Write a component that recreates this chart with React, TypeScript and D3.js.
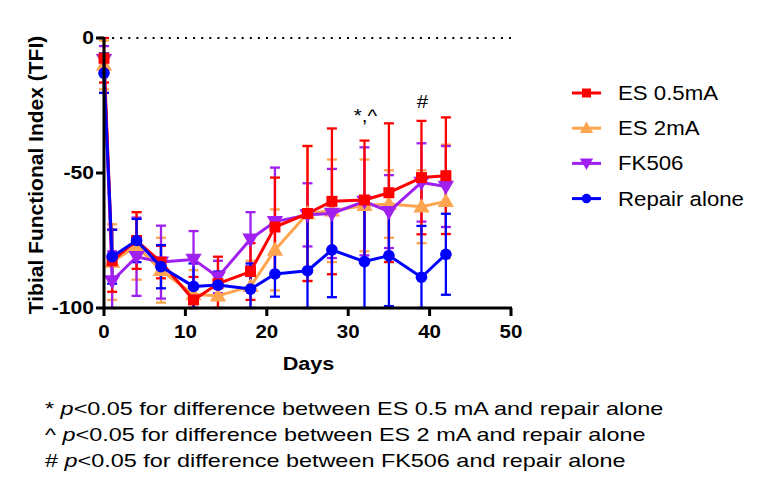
import React from "react";
import * as d3 from "d3";

const days = [0, 1, 4, 7, 11, 14, 18, 21, 25, 28, 32, 35, 39, 42];

const es05Mean = [-7.5, -82.5, -75, -83, -97, -91, -86.5, -70, -65, -60.5, -60, -57.3, -51.7, -51];
const es05Sd = [9, 11.5, 10.5, 6, 8.5, 10, 10.5, 18.3, 25, 27, 22, 25.7, 21, 21.6];

const es2Mean = [-10, -83, -77, -86, -95, -95.5, -92, -78.5, -65, -64, -62, -61.5, -62.5, -60.5];
const es2Sd = [9, 14, 12.5, 12, 9, 8, 9.5, 15, 25, 19, 17, 12.5, 13.5, 21];

const fkMean = [-8, -90, -81, -83, -82, -88.5, -74.5, -68, -65.5, -65, -60.5, -64.3, -53.5, -55];
const fkSd = [5, 11, 14.5, 13.5, 10.5, 6, 10, 20, 11.7, 16.5, 20, 13.5, 14.5, 15];

const repMean = [-13, -81, -75, -84.7, -92, -91.5, -93, -87.4, -86.2, -78.5, -82.8, -80.6, -88.6, -80.1];
const repSd = [7.3, 10, 8, 8, 8.5, 5, 9.5, 8.4, 20, 17.5, 22, 18.7, 19, 15];

const seriesNames = ["ES 0.5mA", "ES 2mA", "FK506", "Repair alone"];
const xTicks = [0, 10, 20, 30, 40, 50];
const yTicks = [0, -50, -100];

const annotations = [
  { day: 32, text: "*,^", base: 122 },
  { day: 39, text: "#", base: 108 },
];

const footnotes = [
  { sym: "* ", rest: "<0.05 for difference between ES 0.5 mA and repair alone" },
  { sym: "^ ", rest: "<0.05 for difference between ES 2 mA and repair alone" },
  { sym: "# ", rest: "<0.05 for difference between FK506 and repair alone" },
];

type Shape = "square" | "triUp" | "triDown" | "circle";

const series = [
  { name: seriesNames[1], mean: es2Mean, sd: es2Sd, color: "#FFA54F", shape: "triUp" as Shape },
  { name: seriesNames[2], mean: fkMean, sd: fkSd, color: "#A020F0", shape: "triDown" as Shape },
  { name: seriesNames[0], mean: es05Mean, sd: es05Sd, color: "#FF0000", shape: "square" as Shape },
  { name: seriesNames[3], mean: repMean, sd: repSd, color: "#0000FF", shape: "circle" as Shape },
];

const legendItems = [
  { name: seriesNames[0], color: "#FF0000", shape: "square" as Shape },
  { name: seriesNames[1], color: "#FFA54F", shape: "triUp" as Shape },
  { name: seriesNames[2], color: "#A020F0", shape: "triDown" as Shape },
  { name: seriesNames[3], color: "#0000FF", shape: "circle" as Shape },
];

function Marker({ shape, x, y, s, color }: { shape: Shape; x: number; y: number; s: number; color: string }) {
  if (shape === "square") return <rect x={x - s / 2} y={y - s / 2} width={s} height={s} fill={color} />;
  if (shape === "circle") return <circle cx={x} cy={y} r={s * 0.53} fill={color} />;
  const sym = d3.symbol().type(d3.symbolTriangle).size(s * s * 0.95)();
  return (
    <path
      d={sym || ""}
      transform={`translate(${x},${y + (shape === "triUp" ? 1 : -1)}) rotate(${shape === "triDown" ? 180 : 0})`}
      fill={color}
    />
  );
}

export default function App() {
  const W = 761;
  const H = 494;
  const x0 = 104, x1 = 511, y0 = 38, y1 = 308;
  const x = d3.scaleLinear().domain([0, 50]).range([x0, x1]);
  const y = d3.scaleLinear().domain([-100, 0]).range([y1, y0]);
  const clampV = (v: number) => Math.max(-100, Math.min(0, v));
  const line = d3
    .line<number>()
    .x((_, i) => x(days[i]))
    .y((d) => y(d));
  const font = "Liberation Sans, Arial, sans-serif";
  const cap = 5;
  const sx = 1.14;

  return (
    <svg width={W} height={H} style={{ position: "absolute", left: 0, top: 0 }} fontFamily={font}>
      <rect width={W} height={H} fill="#fff" />
      {/* dotted zero line */}
      <line x1={x0} x2={x1} y1={y(0)} y2={y(0)} stroke="#000" strokeWidth={2} strokeDasharray="2 6.1" />

      {/* error bars */}
      {series.map((s) => (
        <g key={s.name + "err"} stroke={s.color} strokeWidth={2.3}>
          {days.map((d, i) => {
            const top = y(clampV(s.mean[i] + s.sd[i]));
            const bot = y(clampV(s.mean[i] - s.sd[i]));
            const cx = x(d);
            return (
              <g key={i}>
                <line x1={cx} x2={cx} y1={top} y2={bot} />
                <line x1={cx - cap} x2={cx + cap} y1={top} y2={top} />
                <line x1={cx - cap} x2={cx + cap} y1={bot} y2={bot} />
              </g>
            );
          })}
        </g>
      ))}

      {/* lines and markers */}
      {series.map((s) => (
        <g key={s.name}>
          <path d={line(s.mean) || ""} fill="none" stroke={s.color} strokeWidth={3} strokeLinejoin="round" />
          {days.map((d, i) => (
            <Marker key={i} shape={s.shape} x={x(d)} y={y(s.mean[i])} s={11} color={s.color} />
          ))}
        </g>
      ))}

      {/* axes */}
      <line x1={x0} x2={x0} y1={y0 - 1} y2={y1 + 1.5} stroke="#000" strokeWidth={3} />
      <line x1={x0 - 1.5} x2={x1 + 1} y1={y1} y2={y1} stroke="#000" strokeWidth={3} />
      {yTicks.map((t) => (
        <g key={"y" + t}>
          <line x1={x0 - 8} x2={x0} y1={y(t)} y2={y(t)} stroke="#000" strokeWidth={3} />
          <text
            transform={`translate(${x0 - 10},${y(t)}) scale(${sx},1)`}
            dy="0.35em"
            textAnchor="end"
            fontWeight="bold"
            fontSize={18.5}
          >
            {t}
          </text>
        </g>
      ))}
      {xTicks.map((t) => (
        <g key={"x" + t}>
          <line x1={x(t)} x2={x(t)} y1={y1} y2={y1 + 8} stroke="#000" strokeWidth={3} />
          <text
            transform={`translate(${x(t)},${y1 + 30}) scale(${sx},1)`}
            textAnchor="middle"
            fontWeight="bold"
            fontSize={18}
          >
            {t}
          </text>
        </g>
      ))}
      <text
        transform={`translate(${(x0 + x1) / 2 + 1},370) scale(${sx},1)`}
        textAnchor="middle"
        fontWeight="bold"
        fontSize={19}
      >
        Days
      </text>
      <text
        transform={`translate(43,${(y0 + y1) / 2 + 2}) rotate(-90)`}
        textAnchor="middle"
        fontWeight="bold"
        fontSize={21}
      >
        Tibial Functional Index (TFI)
      </text>

      {/* annotations */}
      {annotations.map((a) => (
        <text
          key={a.text}
          transform={`translate(${x(a.day) + 1},${a.base}) scale(${sx},1)`}
          textAnchor="middle"
          fontSize={18}
        >
          {a.text}
        </text>
      ))}

      {/* legend */}
      {legendItems.map((l, i) => {
        const ly = 93 + i * 35.2;
        return (
          <g key={l.name}>
            <line x1={572} x2={601} y1={ly} y2={ly} stroke={l.color} strokeWidth={3} />
            <Marker shape={l.shape} x={586.5} y={ly} s={9} color={l.color} />
            <text transform={`translate(618,${ly}) scale(${sx},1)`} dy="0.36em" fontSize={19.5}>
              {l.name}
            </text>
          </g>
        );
      })}

      {/* footnotes */}
      {footnotes.map((f, i) => (
        <text key={i} transform={`translate(45,${415 + i * 26}) scale(1.28,1)`} fontSize={18.3}>
          {f.sym}
          <tspan fontStyle="italic">p</tspan>
          {f.rest}
        </text>
      ))}
    </svg>
  );
}
